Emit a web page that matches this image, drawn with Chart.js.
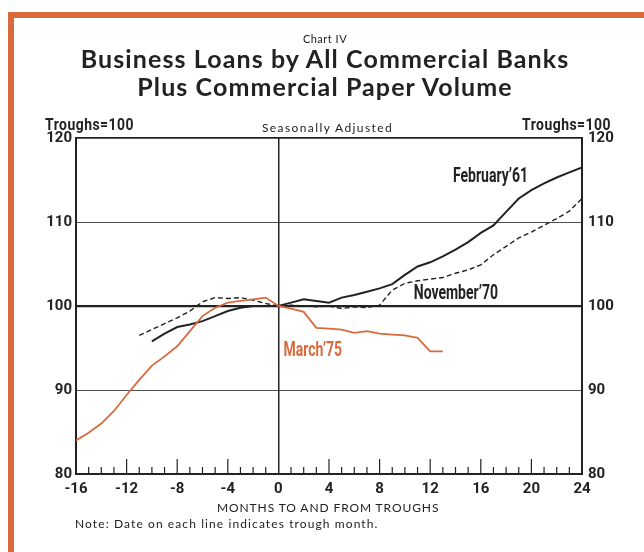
<!DOCTYPE html>
<html>
<head>
<meta charset="utf-8">
<script src="https://cdn.jsdelivr.net/npm/chart.js@4"></script>
<style>
  body { margin: 0; width: 644px; height: 552px; overflow: hidden; background: #fff; position: relative; font-family: Lato, "Open Sans", sans-serif; color: #222; }
  .frame { position: absolute; left: 8px; top: 12px; width: 700px; height: 600px; border-top: 6px solid #d96a3c; border-left: 6px solid #d96a3c; }
  canvas { position: absolute; left: 0; top: 0; }
  .txt { position: absolute; white-space: nowrap; }
  .cond { font-family: Roboto, sans-serif; font-weight: bold; transform: scaleX(0.82); transform-origin: left center; }
</style>
</head>
<body>
<div class="frame"></div>
<canvas id="chart" width="644" height="552"></canvas>
<div class="txt" style="left:0;width:650px;top:32px;text-align:center;font-size:11px;letter-spacing:0.5px">Chart IV</div>
<div class="txt" style="left:0;width:650px;top:44px;text-align:center;font-size:25px;font-weight:bold;line-height:28px;letter-spacing:1.1px">Business Loans by All Commercial Banks<br>Plus Commercial Paper Volume</div>
<div class="txt cond" style="left:45px;top:114px;font-size:17px;letter-spacing:0.6px">Troughs=100</div>
<div class="txt cond" style="left:522px;top:114px;font-size:17px;letter-spacing:0.6px">Troughs=100</div>
<div class="txt" style="left:262px;top:120px;font-size:12px;letter-spacing:1.4px">Seasonally Adjusted</div>
<div class="txt" style="left:217px;top:500px;font-size:12px;letter-spacing:0.9px">MONTHS TO AND FROM TROUGHS</div>
<div class="txt" style="left:75px;top:516px;font-size:12px;letter-spacing:1.1px">Note: Date on each line indicates trough month.</div>
<script>
// months relative to trough and index values (trough = 100)
const marchMonths = [-16, -15, -14, -13, -12, -11, -10, -9, -8, -7, -6, -5, -4, -3, -2, -1, 0, 1, 2, 3, 4, 5, 6, 7, 8, 9, 10, 11, 12, 13];
const march75 = [84.0, 84.9, 86.0, 87.5, 89.4, 91.2, 92.9, 94.0, 95.2, 97.0, 98.8, 99.8, 100.4, 100.6, 100.8, 101.0, 100.0, 99.7, 99.3, 97.4, 97.3, 97.2, 96.8, 97.0, 96.7, 96.6, 96.5, 96.2, 94.6, 94.6];

const febMonths = [-10, -9, -8, -7, -6, -5, -4, -3, -2, -1, 0, 1, 2, 3, 4, 5, 6, 7, 8, 9, 10, 11, 12, 13, 14, 15, 16, 17, 18, 19, 20, 21, 22, 23, 24];
const feb61 = [95.8, 96.7, 97.5, 97.8, 98.2, 98.8, 99.4, 99.8, 100.0, 100.0, 100.0, 100.4, 100.8, 100.6, 100.4, 101.0, 101.3, 101.7, 102.1, 102.6, 103.7, 104.7, 105.2, 105.9, 106.7, 107.6, 108.7, 109.6, 111.2, 112.8, 113.8, 114.6, 115.3, 115.9, 116.5];

const novMonths = [-11, -10, -9, -8, -7, -6, -5, -4, -3, -2, -1, 0, 1, 2, 3, 4, 5, 6, 7, 8, 9, 10, 11, 12, 13, 14, 15, 16, 17, 18, 19, 20, 21, 22, 23, 24];
const nov70 = [96.5, 97.2, 97.9, 98.6, 99.4, 100.5, 101.0, 100.9, 101.0, 100.7, 100.3, 100.0, 100.1, 100.0, 99.9, 100.0, 99.7, 99.9, 99.8, 100.1, 101.9, 102.7, 103.0, 103.2, 103.4, 103.9, 104.3, 104.9, 106.1, 107.1, 108.1, 108.8, 109.6, 110.4, 111.3, 112.8];

const orange = "#d96a3c";
const dark = "#222";

// labels written on the lines
const lineLabels = [
  { text: "February\u201961", x: 13.8, y: 115.3, color: dark },
  { text: "November\u201970", x: 10.7, y: 101.4, color: dark },
  { text: "March\u201975", x: 0.4, y: 94.6, color: orange },
];

function toPoints(xs, ys) {
  return xs.map((m, i) => ({ x: m, y: ys[i] }));
}

// small month ticks standing up from the bottom axis
const monthTicks = {
  id: "monthTicks",
  afterDatasetsDraw(chart) {
    const { ctx, chartArea, scales } = chart;
    ctx.save();
    ctx.strokeStyle = dark;
    ctx.lineWidth = 1.2;
    for (let m = -15; m < 24; m++) {
      if (m === 0) continue;
      const px = scales.x.getPixelForValue(m);
      const len = m % 4 === 0 ? 15 : 7;
      ctx.beginPath();
      ctx.moveTo(px, chartArea.bottom);
      ctx.lineTo(px, chartArea.bottom - len);
      ctx.stroke();
    }
    ctx.restore();
  },
};

// narrow bold names next to each line
const lineText = {
  id: "lineText",
  afterDatasetsDraw(chart) {
    const { ctx, scales } = chart;
    ctx.save();
    ctx.font = "bold 20px Roboto, sans-serif";
    ctx.textAlign = "left";
    ctx.textBaseline = "middle";
    lineLabels.forEach((l) => {
      const px = scales.x.getPixelForValue(l.x);
      const py = scales.y.getPixelForValue(l.y);
      ctx.save();
      ctx.translate(px, py);
      ctx.scale(0.7, 1);
      ctx.fillStyle = l.color;
      ctx.fillText(l.text, 0, 0);
      ctx.restore();
    });
    ctx.restore();
  },
};

const tickFont = { family: "Roboto, sans-serif", size: 15, weight: "bold" };

new Chart(document.getElementById("chart"), {
  type: "line",
  data: {
    datasets: [
      {
        label: "March'75",
        data: toPoints(marchMonths, march75),
        borderColor: orange,
        borderWidth: 1.8,
      },
      {
        label: "February'61",
        data: toPoints(febMonths, feb61),
        borderColor: dark,
        borderWidth: 2,
      },
      {
        label: "November'70",
        data: toPoints(novMonths, nov70),
        borderColor: dark,
        borderWidth: 1.4,
        borderDash: [5, 3],
      },
    ],
  },
  options: {
    responsive: false,
    animation: false,
    events: [],
    elements: { point: { radius: 0 }, line: { tension: 0 } },
    layout: { padding: { left: 36, right: 22, top: 138, bottom: 48 } },
    plugins: { legend: { display: false }, tooltip: { enabled: false } },
    scales: {
      x: {
        type: "linear",
        min: -16,
        max: 24,
        afterFit(scale) { scale.height = 30; },
        ticks: { stepSize: 4, color: dark, font: tickFont, padding: 6, maxRotation: 0 },
        grid: {
          drawTicks: false,
          color: (c) => (c.tick && c.tick.value === 0 ? dark : "transparent"),
          lineWidth: 1.5,
        },
        border: { color: dark, width: 2 },
      },
      y: {
        min: 80,
        max: 120,
        afterFit(scale) { scale.width = 40; },
        ticks: { stepSize: 10, color: dark, font: tickFont, padding: 4 },
        grid: {
          drawTicks: false,
          color: dark,
          lineWidth: (c) => (c.tick && c.tick.value === 100 ? 2.2 : c.tick && c.tick.value === 120 ? 1.8 : 0.8),
        },
        border: { color: dark, width: 2 },
      },
      y2: {
        position: "right",
        min: 80,
        max: 120,
        afterFit(scale) { scale.width = 40; },
        ticks: { stepSize: 10, color: dark, font: tickFont, padding: 6 },
        grid: { display: false, drawTicks: false },
        border: { color: dark, width: 2 },
      },
    },
  },
  plugins: [monthTicks, lineText],
});
</script>
</body>
</html>
